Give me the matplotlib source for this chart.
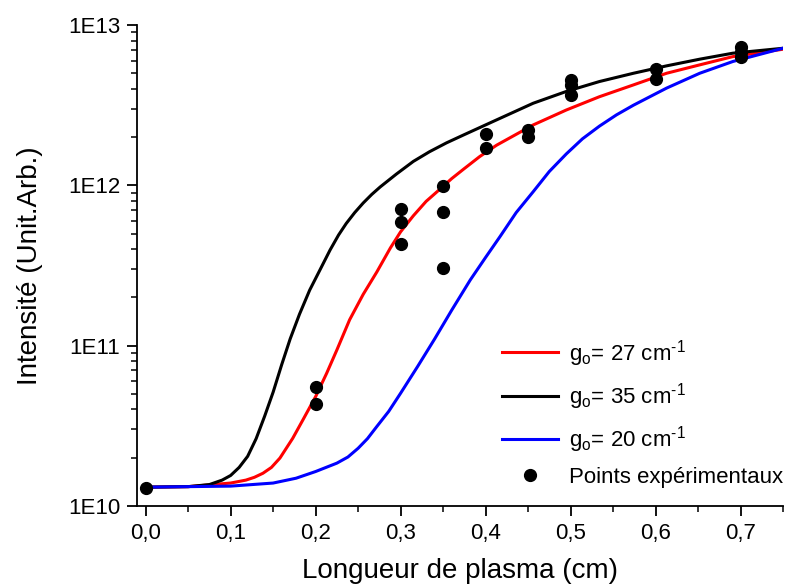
import math
import matplotlib.pyplot as plt
from matplotlib.ticker import FuncFormatter, LogLocator, MultipleLocator, NullFormatter

plt.rcParams['font.family'] = ['Liberation Sans', 'DejaVu Sans']
plt.rcParams['mathtext.fontset'] = 'custom'
plt.rcParams['mathtext.rm'] = 'Liberation Sans'
plt.rcParams['mathtext.it'] = 'Liberation Sans:italic'

# model curves
x_35 = [0, 0.05, 0.075, 0.09, 0.1, 0.11, 0.12, 0.13, 0.14, 0.15, 0.16, 0.17, 0.181,
        0.193, 0.205, 0.217, 0.227, 0.236, 0.246, 0.256, 0.266, 0.276, 0.295, 0.315,
        0.334, 0.354, 0.374, 0.413, 0.456, 0.495, 0.534, 0.574, 0.613, 0.652, 0.691, 0.75]
i_35 = [1.31e10, 1.32e10, 1.36e10, 1.45e10, 1.55e10, 1.74e10, 2.04e10, 2.63e10, 3.63e10,
        5.13e10, 7.59e10, 1.10e11, 1.57e11, 2.22e11, 2.96e11, 3.95e11, 4.90e11, 5.78e11,
        6.76e11, 7.76e11, 8.77e11, 9.77e11, 1.175e12, 1.41e12, 1.62e12, 1.84e12, 2.06e12,
        2.56e12, 3.25e12, 3.85e12, 4.44e12, 5.00e12, 5.56e12, 6.12e12, 6.67e12, 7.16e12]

x_27 = [0, 0.05, 0.1, 0.118, 0.128, 0.138, 0.148, 0.158, 0.173, 0.185, 0.2, 0.213,
        0.225, 0.24, 0.256, 0.272, 0.288, 0.3, 0.315, 0.33, 0.345, 0.36, 0.374, 0.393,
        0.413, 0.456, 0.495, 0.534, 0.574, 0.613, 0.652, 0.691, 0.75]
i_27 = [1.31e10, 1.32e10, 1.39e10, 1.45e10, 1.51e10, 1.60e10, 1.74e10, 1.99e10, 2.64e10,
        3.44e10, 4.81e10, 6.73e10, 9.40e10, 1.45e11, 2.09e11, 2.88e11, 4.07e11, 5.13e11,
        6.46e11, 7.94e11, 9.33e11, 1.10e12, 1.26e12, 1.51e12, 1.78e12, 2.38e12, 2.95e12,
        3.57e12, 4.23e12, 5.00e12, 5.64e12, 6.35e12, 7.06e12]

x_20 = [0, 0.1, 0.15, 0.177, 0.2, 0.225, 0.238, 0.25, 0.261, 0.272, 0.286, 0.3, 0.32,
        0.34, 0.36, 0.382, 0.4, 0.417, 0.436, 0.456, 0.475, 0.495, 0.514, 0.534, 0.554,
        0.574, 0.613, 0.652, 0.691, 0.75]
i_20 = [1.31e10, 1.33e10, 1.39e10, 1.49e10, 1.64e10, 1.85e10, 2.02e10, 2.29e10, 2.63e10,
        3.13e10, 3.89e10, 5.05e10, 7.41e10, 1.10e11, 1.66e11, 2.57e11, 3.55e11, 4.79e11,
        6.76e11, 9.12e11, 1.22e12, 1.57e12, 1.95e12, 2.34e12, 2.75e12, 3.16e12, 4.04e12,
        5.00e12, 5.92e12, 7.16e12]

# experimental points
x_exp = [0, 0.2, 0.2, 0.3, 0.3, 0.3, 0.35, 0.35, 0.35, 0.4, 0.4, 0.45, 0.45,
         0.5, 0.5, 0.5, 0.6, 0.6, 0.7, 0.7, 0.7]
i_exp = [1.30e10, 5.5e10, 4.33e10, 7.1e11, 5.9e11, 4.3e11, 9.9e11, 6.8e11, 3.04e11,
         2.09e12, 1.70e12, 2.22e12, 2.01e12, 4.57e12, 4.22e12, 3.67e12, 5.32e12, 4.61e12,
         7.24e12, 6.76e12, 6.31e12]

fig = plt.figure(figsize=(7.91, 5.88), dpi=100)
ax = fig.add_axes([0.1732, 0.1395, 0.8167, 0.818])

ax.plot(x_27, i_27, color='red', lw=2.2, label=r'g$_{\mathrm{o}}$= 27 cm$^{\text{-1}}$')
ax.plot(x_35, i_35, color='black', lw=2.2, label=r'g$_{\mathrm{o}}$= 35 cm$^{\text{-1}}$')
ax.plot(x_20, i_20, color='blue', lw=2.2, label=r'g$_{\mathrm{o}}$= 20 cm$^{\text{-1}}$')
ax.plot(x_exp, i_exp, 'o', color='black', ms=8.5, ls='none', label='Points expérimentaux')

ax.set_yscale('log')
ax.set_xlim(-0.0102, 0.75)
ax.set_ylim(1e10, 1e13)

ax.spines['top'].set_visible(False)
ax.spines['right'].set_visible(False)
ax.spines['left'].set_linewidth(1.3)
ax.spines['bottom'].set_linewidth(1.3)

ax.xaxis.set_major_locator(MultipleLocator(0.1))
ax.xaxis.set_minor_locator(MultipleLocator(0.05))
ax.xaxis.set_major_formatter(FuncFormatter(lambda v, p: f'{v:.1f}'.replace('.', ',')))
ax.yaxis.set_major_locator(LogLocator(base=10, numticks=10))
ax.yaxis.set_minor_locator(LogLocator(base=10, subs=range(2, 10), numticks=20))
ax.yaxis.set_minor_formatter(NullFormatter())
ax.yaxis.set_major_formatter(FuncFormatter(lambda v, p: '1E%d' % round(math.log10(v))))

ax.tick_params(which='major', direction='out', length=7, width=1.3, labelsize=16, pad=5)
ax.tick_params(which='minor', direction='out', length=4, width=1.1)

ax.set_xlabel('Longueur de plasma (cm)', fontsize=20, labelpad=10)
ax.set_ylabel('Intensité (Unit.Arb.)', fontsize=20, labelpad=18)

ax.legend(loc='center left', bbox_to_anchor=(502 / 791, 1 - 413 / 588),
          bbox_transform=fig.transFigure, frameon=False, fontsize=16,
          handlelength=2.5, handletextpad=0.5, labelspacing=0.55,
          borderpad=0, borderaxespad=0, numpoints=1)

fig.savefig('out.png', dpi=100)
